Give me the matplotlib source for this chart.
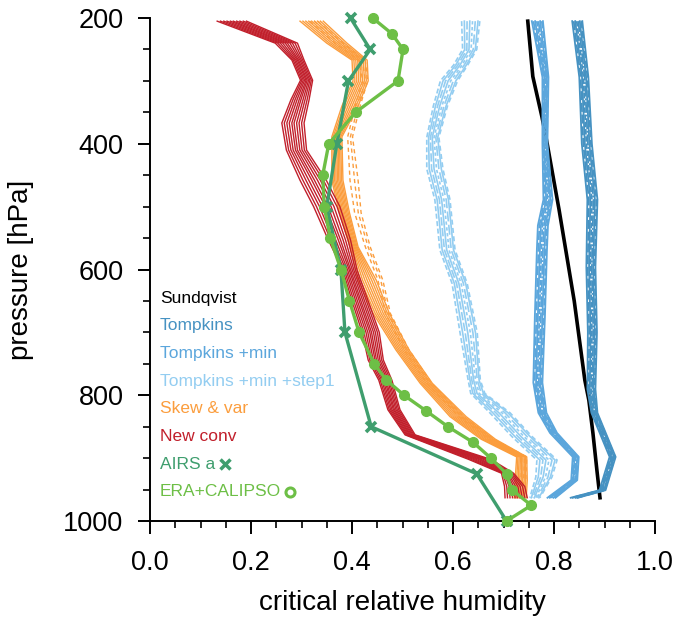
import numpy as np
import matplotlib.pyplot as plt

plt.rcParams['font.family'] = ['Liberation Sans', 'DejaVu Sans']

# Sundqvist (single profile)
sund_p = [205, 293, 357, 389, 505, 650, 776, 808, 860, 920, 963]
sund_x = [0.748, 0.758, 0.776, 0.784, 0.810, 0.840, 0.861, 0.869, 0.877, 0.885, 0.891]

# Tompkins ensemble: centre profile and half spread
tomp_p = [205, 294, 400, 489, 596, 700, 790, 828, 898, 951, 963]
tomp_x = [0.846, 0.859, 0.865, 0.876, 0.873, 0.876, 0.874, 0.880, 0.916, 0.896, 0.840]
tomp_w = [0.010, 0.009, 0.010, 0.010, 0.009, 0.009, 0.008, 0.006, 0.006, 0.006, 0.007]

# Tompkins +min
tmin_p = [205, 294, 400, 489, 530, 569, 675, 780, 828, 860, 898, 935, 963]
tmin_x = [0.767, 0.783, 0.782, 0.788, 0.778, 0.776, 0.772, 0.768, 0.777, 0.799, 0.843, 0.840, 0.795]
tmin_w = [0.011, 0.006, 0.005, 0.009, 0.010, 0.010, 0.010, 0.009, 0.008, 0.007, 0.006, 0.006, 0.008]

# Tompkins +min +step1
ts1_p = [205, 250, 275, 300, 340, 390, 440, 489, 569, 622, 701, 776, 797, 828, 866, 903, 930, 963]
ts1_x = [0.635, 0.633, 0.615, 0.592, 0.575, 0.560, 0.564, 0.579, 0.589, 0.613, 0.631, 0.642, 0.649,
         0.693, 0.737, 0.786, 0.780, 0.762]
ts1_w = [0.018, 0.014, 0.014, 0.017, 0.014, 0.012, 0.016, 0.015, 0.015, 0.015, 0.017, 0.012, 0.014,
         0.020, 0.020, 0.020, 0.016, 0.010]

# Skew & var (solid members and dashed members)
skew_p = [205, 240, 267, 300, 340, 389, 458, 510, 564, 617, 670, 728, 781, 834, 870, 898, 935, 963]
skew_x = [0.320, 0.370, 0.415, 0.417, 0.396, 0.370, 0.371, 0.385, 0.404, 0.430, 0.458, 0.500, 0.547,
          0.610, 0.670, 0.736, 0.735, 0.733]
skew_w = [0.023, 0.020, 0.015, 0.015, 0.016, 0.010, 0.011, 0.010, 0.008, 0.018, 0.016, 0.013, 0.012,
          0.016, 0.014, 0.010, 0.012, 0.012]
skew_dx = [0.322, 0.372, 0.418, 0.425, 0.410, 0.395, 0.402, 0.410, 0.430, 0.455, 0.470, 0.507, 0.552,
           0.615, 0.675, 0.740, 0.738, 0.736]
skew_dw = [0.010, 0.010, 0.008, 0.006, 0.006, 0.006, 0.010, 0.008, 0.006, 0.006, 0.006, 0.006, 0.006,
           0.006, 0.006, 0.006, 0.006, 0.006]

# New conv
conv_p = [205, 240, 267, 299, 330, 367, 410, 458, 500, 553, 601, 650, 700, 744, 776, 823, 863, 902,
          924, 945, 963]
conv_x = [0.162, 0.270, 0.293, 0.310, 0.297, 0.283, 0.290, 0.323, 0.350, 0.375, 0.396, 0.416, 0.437,
          0.447, 0.466, 0.483, 0.515, 0.653, 0.708, 0.722, 0.725]
conv_w = [0.029, 0.022, 0.012, 0.012, 0.018, 0.022, 0.020, 0.026, 0.026, 0.022, 0.014, 0.016, 0.017,
          0.015, 0.013, 0.012, 0.010, 0.022, 0.012, 0.020, 0.022]

# observations
airs_p = [200, 250, 300, 400, 500, 600, 700, 850, 925, 1000]
airs_x = [0.397, 0.436, 0.393, 0.370, 0.350, 0.378, 0.386, 0.438, 0.647, 0.706]
era_p = [200, 225, 250, 300, 350, 400, 450, 500, 550, 600, 650, 700, 750, 775, 800, 825, 850, 875,
         900, 925, 950, 975, 1000]
era_x = [0.441, 0.479, 0.501, 0.491, 0.407, 0.354, 0.342, 0.345, 0.357, 0.378, 0.395, 0.414, 0.444,
         0.467, 0.503, 0.547, 0.590, 0.640, 0.675, 0.706, 0.716, 0.755, 0.706]

# member positions inside each band (-1 = left edge, 1 = right edge)
conv_members = [-1.0, -0.78, -0.55, -0.33, -0.1, 0.1, 0.33, 0.55, 0.78, 1.0]
skew_members = [-1.0, -0.75, -0.5, -0.25, 0.0, 0.25, 0.5, 0.75, 1.0]
skew_dash_members = [-0.6, 0.3, 1.0]
blue_members = [-1.0, -0.7, -0.4, -0.1, 0.2, 0.5, 0.8, 1.0]

labels = ['Sundqvist', 'Tompkins', 'Tompkins +min', 'Tompkins +min +step1',
          'Skew & var', 'New conv', 'AIRS a', 'ERA+CALIPSO']
colors = ['black', '#4692c2', '#5ba6dc', '#93cdf1', '#fb9d3d', '#c11f2b', '#3f9e6e', '#6dbf46']

blue_styles = ['-', (0, (5, 1.5)), '-', (0, (3, 1)), (0, (6, 1, 1, 1)), '-', (0, (4, 1.5)), '-']
ts1_styles = [(0, (3, 1.5)), '-', (0, (5, 1.5)), '-', (0, (2, 1.5)), (0, (6, 2)), '-', (0, (3, 2))]

fig = plt.figure(figsize=(6.73, 6.21), dpi=100)
ax = fig.add_axes([0.2229, 0.161, 0.7504, 0.810])


def band(p, x, w, members, color, styles, lw=1.0):
    x = np.array(x)
    w = np.array(w)
    for i, m in enumerate(members):
        ax.plot(x + m * w, p, color=color, lw=lw, ls=styles[i % len(styles)])


ax.plot(sund_x, sund_p, color=colors[0], lw=2.6)
band(tomp_p, tomp_x, tomp_w, blue_members, colors[1], blue_styles, lw=1.3)
band(tmin_p, tmin_x, tmin_w, blue_members, colors[2], blue_styles, lw=1.3)
band(ts1_p, ts1_x, ts1_w, blue_members, colors[3], ts1_styles, lw=1.2)
band(skew_p, skew_x, skew_w, skew_members, colors[4], ['-'], lw=1.0)
band(skew_p, skew_dx, skew_dw, skew_dash_members, colors[4], [(0, (3, 2.5))], lw=1.0)
band(conv_p, conv_x, conv_w, conv_members, colors[5], ['-'], lw=1.0)

ax.plot(airs_x, airs_p, color=colors[6], lw=2.4, marker='x', ms=7, mew=2.6, clip_on=False, zorder=5)
ax.plot(era_x, era_p, color=colors[7], lw=2.4, marker='o', ms=7, clip_on=False, zorder=6)

# legend as coloured text
for i, (lab, c) in enumerate(zip(labels, colors)):
    ax.text(0.02, 0.443 - i * 0.055, lab, color=c, fontsize=12.5, va='center', ha='left',
            transform=ax.transAxes)
ax.plot([0.149], [0.113], transform=ax.transAxes, marker='x', ms=6.5, mew=2.5,
        color=colors[6], ls='none', clip_on=False)
ax.plot([0.278], [0.058], transform=ax.transAxes, marker='o', ms=6.5, mew=2.2,
        mfc='white', mec=colors[7], ls='none', clip_on=False)

ax.set_xlim(0, 1)
ax.set_ylim(1000, 200)
ax.set_xticks(np.arange(0, 1.01, 0.2))
ax.set_xticks(np.arange(0, 1.01, 0.05), minor=True)
ax.set_yticks([200, 400, 600, 800, 1000])
ax.set_yticks(np.arange(200, 1001, 50), minor=True)
ax.xaxis.set_major_formatter(plt.FormatStrFormatter('%.1f'))

for s in ['top', 'right']:
    ax.spines[s].set_visible(False)
for s in ['left', 'bottom']:
    ax.spines[s].set_linewidth(1.4)
ax.tick_params(which='major', direction='out', length=9, width=1.4, labelsize=19.5)
ax.tick_params(axis='x', which='major', pad=12)
ax.tick_params(axis='y', which='major', pad=10)
ax.tick_params(which='minor', direction='out', length=5, width=1.2)

ax.set_xlabel('critical relative humidity', fontsize=20, labelpad=10)
ax.set_ylabel('pressure [hPa]', fontsize=20, labelpad=21)

fig.savefig('out.png', dpi=100)
